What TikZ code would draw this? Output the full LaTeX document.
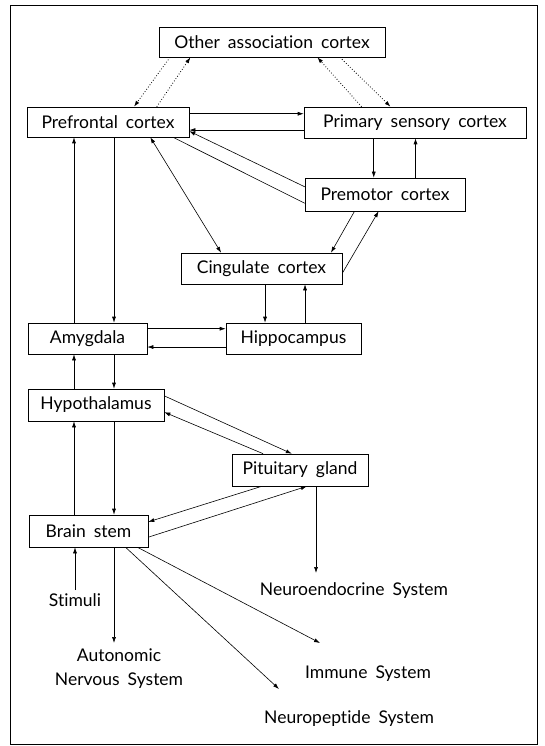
\documentclass[tikz,border=0pt]{standalone}
\usepackage{fontspec}
\setmainfont[WordSpace=1.8, Ligatures=NoCommon]{Lato}
\usetikzlibrary{arrows.meta,calc}

\begin{document}
\begin{tikzpicture}[x=1pt, y=-1pt, line width=0.6pt,
    box/.style={draw, minimum height=31pt, inner sep=0pt, font=\fontsize{17.5}{20}\selectfont},
    lbl/.style={font=\fontsize{17.5}{24}\selectfont, align=center, inner sep=3pt},
    arr/.style={-{Latex[length=6pt,width=4pt]}},
    darr/.style={{Latex[length=6pt,width=4pt]}-{Latex[length=6pt,width=4pt]}},
    dotarr/.style={dotted, line width=0.8pt, -{Latex[length=6pt,width=4pt]}}]
    \useasboundingbox (0,0) rectangle (544,746);
    \draw (10,5) rectangle (537,744);

    % boxes
    \node[box, minimum width=226pt, minimum height=30pt] (oac) at (272,42) {Other association cortex};
    \node[box, minimum width=162pt, minimum height=30pt] (pfc) at (108,122) {Prefrontal cortex};
    \node[box, minimum width=222pt] (psc) at (415,122.5) {Primary sensory cortex};
    \node[box, minimum width=160pt, minimum height=33pt] (pm) at (385,194.5) {Premotor cortex};
    \node[box, minimum width=161pt] (cing) at (261.5,268.5) {Cingulate cortex};
    \node[box, minimum width=119pt] (amy) at (87.5,338.5) {Amygdala};
    \node[box, minimum width=135pt] (hip) at (293.5,338.5) {Hippocampus};
    \node[box, minimum width=136pt, minimum height=32pt] (hyp) at (96,405) {Hypothalamus};
    \node[box, minimum width=136pt, minimum height=32pt] (pit) at (300,470) {Pituitary gland};
    \node[box, minimum width=119pt, minimum height=32pt] (bs) at (88.5,531) {Brain stem};

    % plain labels
    \node[lbl] (stim) at (75,600) {Stimuli};
    \node[lbl] (ans) at (119,669) {Autonomic\\Nervous System};
    \node[lbl] (neo) at (354,591) {Neuroendocrine System};
    \node[lbl] (imm) at (368,674) {Immune System};
    \node[lbl] (npep) at (349,719) {Neuropeptide System};

    \coordinate (up) at (74,0);
    \coordinate (down) at (114,0);
    \coordinate (ansTip) at (114,643);
    \coordinate (neoTip) at (316,573);
    \coordinate (immTip) at (320,643);
    \coordinate (npTip) at (279,689);

    % dotted links with other association cortex
    \draw[dotarr] ($(oac.south west)!.05!(oac.south east)$) -- ($(pfc.north west)!.66!(pfc.north east)$);
    \draw[dotarr] ($(pfc.north west)!.80!(pfc.north east)$) -- ($(oac.south west)!.14!(oac.south east)$);
    \draw[dotarr] ($(psc.north west)!.26!(psc.north east)$) -- ($(oac.south west)!.70!(oac.south east)$);
    \draw[dotarr] ($(oac.south west)!.80!(oac.south east)$) -- ($(psc.north west)!.39!(psc.north east)$);

    % prefrontal <-> primary sensory
    \draw[arr] ($(pfc.north east)!.23!(pfc.south east)$) coordinate (t) -- (t -| psc.west);
    \draw[arr] ($(psc.north west)!.74!(psc.south west)$) coordinate (t) -- (t -| pfc.east);

    % primary sensory <-> premotor
    \draw[arr] ($(pm.north west)!.43!(pm.north east)$) coordinate (t) (t |- psc.south) -- (t);
    \draw[arr] ($(pm.north west)!.69!(pm.north east)$) coordinate (t) -- (t |- psc.south);

    % premotor <-> prefrontal
    \draw[arr] ($(pm.north west)!.27!(pm.south west)$) -- ($(pfc.north east)!.8!(pfc.south east)$);
    \draw ($(pfc.south west)!.9!(pfc.south east)$) -- ($(pm.north west)!.76!(pm.south west)$);

    % prefrontal <-> cingulate
    \draw[darr] ($(pfc.south west)!.76!(pfc.south east)$) -- ($(cing.north west)!.25!(cing.north east)$);

    % premotor <-> cingulate
    \draw[arr] ($(pm.south west)!.31!(pm.south east)$) -- ($(cing.north west)!.93!(cing.north east)$);
    \draw[arr] ($(cing.north east)!.65!(cing.south east)$) -- ($(pm.south west)!.46!(pm.south east)$);

    % cingulate <-> hippocampus
    \draw[arr] ($(hip.north west)!.29!(hip.north east)$) coordinate (t) (t |- cing.south) -- (t);
    \draw[arr] ($(hip.north west)!.585!(hip.north east)$) coordinate (t) -- (t |- cing.south);

    % amygdala <-> hippocampus
    \draw[arr] ($(amy.north east)!.19!(amy.south east)$) coordinate (t) -- (t -| hip.west);
    \draw[arr] ($(hip.north west)!.77!(hip.south west)$) coordinate (t) -- (t -| amy.east);

    % left column
    \draw[arr] (amy.north -| up) -- (pfc.south -| up);
    \draw[arr] (pfc.south -| down) -- (amy.north -| down);
    \draw[arr] (hyp.north -| up) -- (amy.south -| up);
    \draw[arr] (amy.south -| down) -- (hyp.north -| down);
    \draw[arr] (bs.north -| up) -- (hyp.south -| up);
    \draw[arr] (hyp.south -| down) -- (bs.north -| down);
    \draw[arr] (stim.north) -- (stim.north |- bs.south);
    \draw[arr] (bs.south -| down) -- (ansTip);

    % hypothalamus <-> pituitary
    \draw[arr] ($(hyp.north east)!.22!(hyp.south east)$) -- ($(pit.north west)!.44!(pit.north east)$);
    \draw[arr] ($(pit.north west)!.23!(pit.north east)$) -- ($(hyp.north east)!.72!(hyp.south east)$);

    % pituitary <-> brain stem
    \draw[arr] ($(pit.south west)!.22!(pit.south east)$) -- ($(bs.north east)!.22!(bs.south east)$);
    \draw[arr] ($(bs.north east)!.69!(bs.south east)$) -- ($(pit.south west)!.55!(pit.south east)$);

    % outputs
    \draw[arr] (pit.south -| neoTip) -- (neoTip);
    \draw[arr] ($(bs.south west)!.91!(bs.south east)$) -- (immTip);
    \draw[arr] ($(bs.south west)!.81!(bs.south east)$) -- (npTip);
\end{tikzpicture}
\end{document}
